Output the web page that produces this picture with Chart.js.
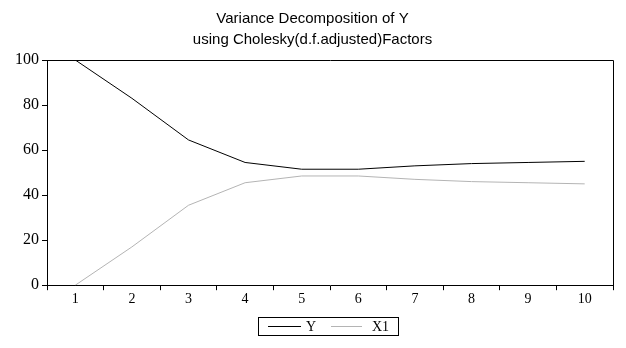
<!DOCTYPE html>
<html>
<head>
<meta charset="utf-8">
<script src="https://cdn.jsdelivr.net/npm/chart.js@4"></script>
<style>
  html, body { margin: 0; padding: 0; background: #fff; }
  #wrap { width: 626px; height: 348px; }
</style>
</head>
<body>
<div id="wrap"><canvas id="chart1" width="626" height="348"></canvas></div>
<script>
// periods and variance shares (percent)
const periods = ['1', '2', '3', '4', '5', '6', '7', '8', '9', '10'];
const shareY = [100, 83, 64.5, 54.5, 51.5, 51.5, 53, 54, 54.5, 55];
const shareX1 = [0, 17, 35.5, 45.5, 48.5, 48.5, 47, 46, 45.5, 45];
const yTicks = [0, 20, 40, 60, 80, 100];

const serif = '"Liberation Serif", "Times New Roman", serif';

// frame around the plot area (top and right sides)
const framePlugin = {
  id: 'frame',
  afterDraw(chart) {
    const { ctx, chartArea: a } = chart;
    ctx.save();
    ctx.strokeStyle = '#000';
    ctx.lineWidth = 1;
    ctx.beginPath();
    ctx.moveTo(Math.round(a.left) + 0.5, Math.round(a.top) + 0.5);
    ctx.lineTo(Math.round(a.right) + 0.5, Math.round(a.top) + 0.5);
    ctx.lineTo(Math.round(a.right) + 0.5, Math.round(a.bottom) + 0.5);
    ctx.stroke();
    ctx.restore();
  }
};

// boxed legend under the axis
const boxLegend = {
  id: 'boxLegend',
  afterDraw(chart) {
    const ctx = chart.ctx;
    const x0 = 258, y0 = 317, w = 140, h = 18;
    // line start, line end, text start for each entry
    const slots = [[268, 301, 306], [331, 362, 372]];
    ctx.save();
    ctx.strokeStyle = '#000';
    ctx.lineWidth = 1;
    ctx.strokeRect(x0 + 0.5, y0 + 0.5, w, h);
    ctx.font = '14px ' + serif;
    ctx.textBaseline = 'middle';
    ctx.fillStyle = '#000';
    chart.data.datasets.forEach((ds, i) => {
      const [l0, l1, tx] = slots[i];
      ctx.strokeStyle = ds.borderColor;
      ctx.beginPath();
      ctx.moveTo(l0, y0 + 9.5);
      ctx.lineTo(l1, y0 + 9.5);
      ctx.stroke();
      ctx.fillText(ds.label, tx, y0 + 10);
    });
    ctx.restore();
  }
};

new Chart(document.getElementById('chart1'), {
  type: 'line',
  data: {
    labels: periods,
    datasets: [
      { label: 'Y', data: shareY, borderColor: '#000000', borderWidth: 1, pointRadius: 0, tension: 0 },
      { label: 'X1', data: shareX1, borderColor: '#b4b4b4', borderWidth: 1, pointRadius: 0, tension: 0 }
    ]
  },
  options: {
    responsive: false,
    animation: false,
    layout: { padding: { left: 12, right: 13, top: 0, bottom: 39 } },
    plugins: {
      legend: { display: false },
      tooltip: { enabled: false },
      title: {
        display: true,
        text: ['Variance Decomposition of Y', 'using Cholesky(d.f.adjusted)Factors'],
        color: '#000',
        font: { family: '"Liberation Sans", Arial, sans-serif', size: 15, weight: 'normal', lineHeight: 1.4 },
        padding: { top: 8, bottom: 10 }
      }
    },
    scales: {
      x: {
        offset: true,
        grid: { drawOnChartArea: false, drawTicks: true, tickLength: 5, color: '#000', offset: true },
        border: { display: true, color: '#000' },
        ticks: { color: '#000', font: { family: serif, size: 14 }, padding: 1, maxRotation: 0 }
      },
      y: {
        min: 0,
        max: 100,
        afterBuildTicks(scale) { scale.ticks = yTicks.map(v => ({ value: v })); },
        grid: { drawOnChartArea: false, drawTicks: true, tickLength: 5, color: '#000' },
        border: { display: true, color: '#000' },
        ticks: { color: '#000', font: { family: serif, size: 16 }, padding: 3 }
      }
    }
  },
  plugins: [framePlugin, boxLegend]
});
</script>
</body>
</html>
